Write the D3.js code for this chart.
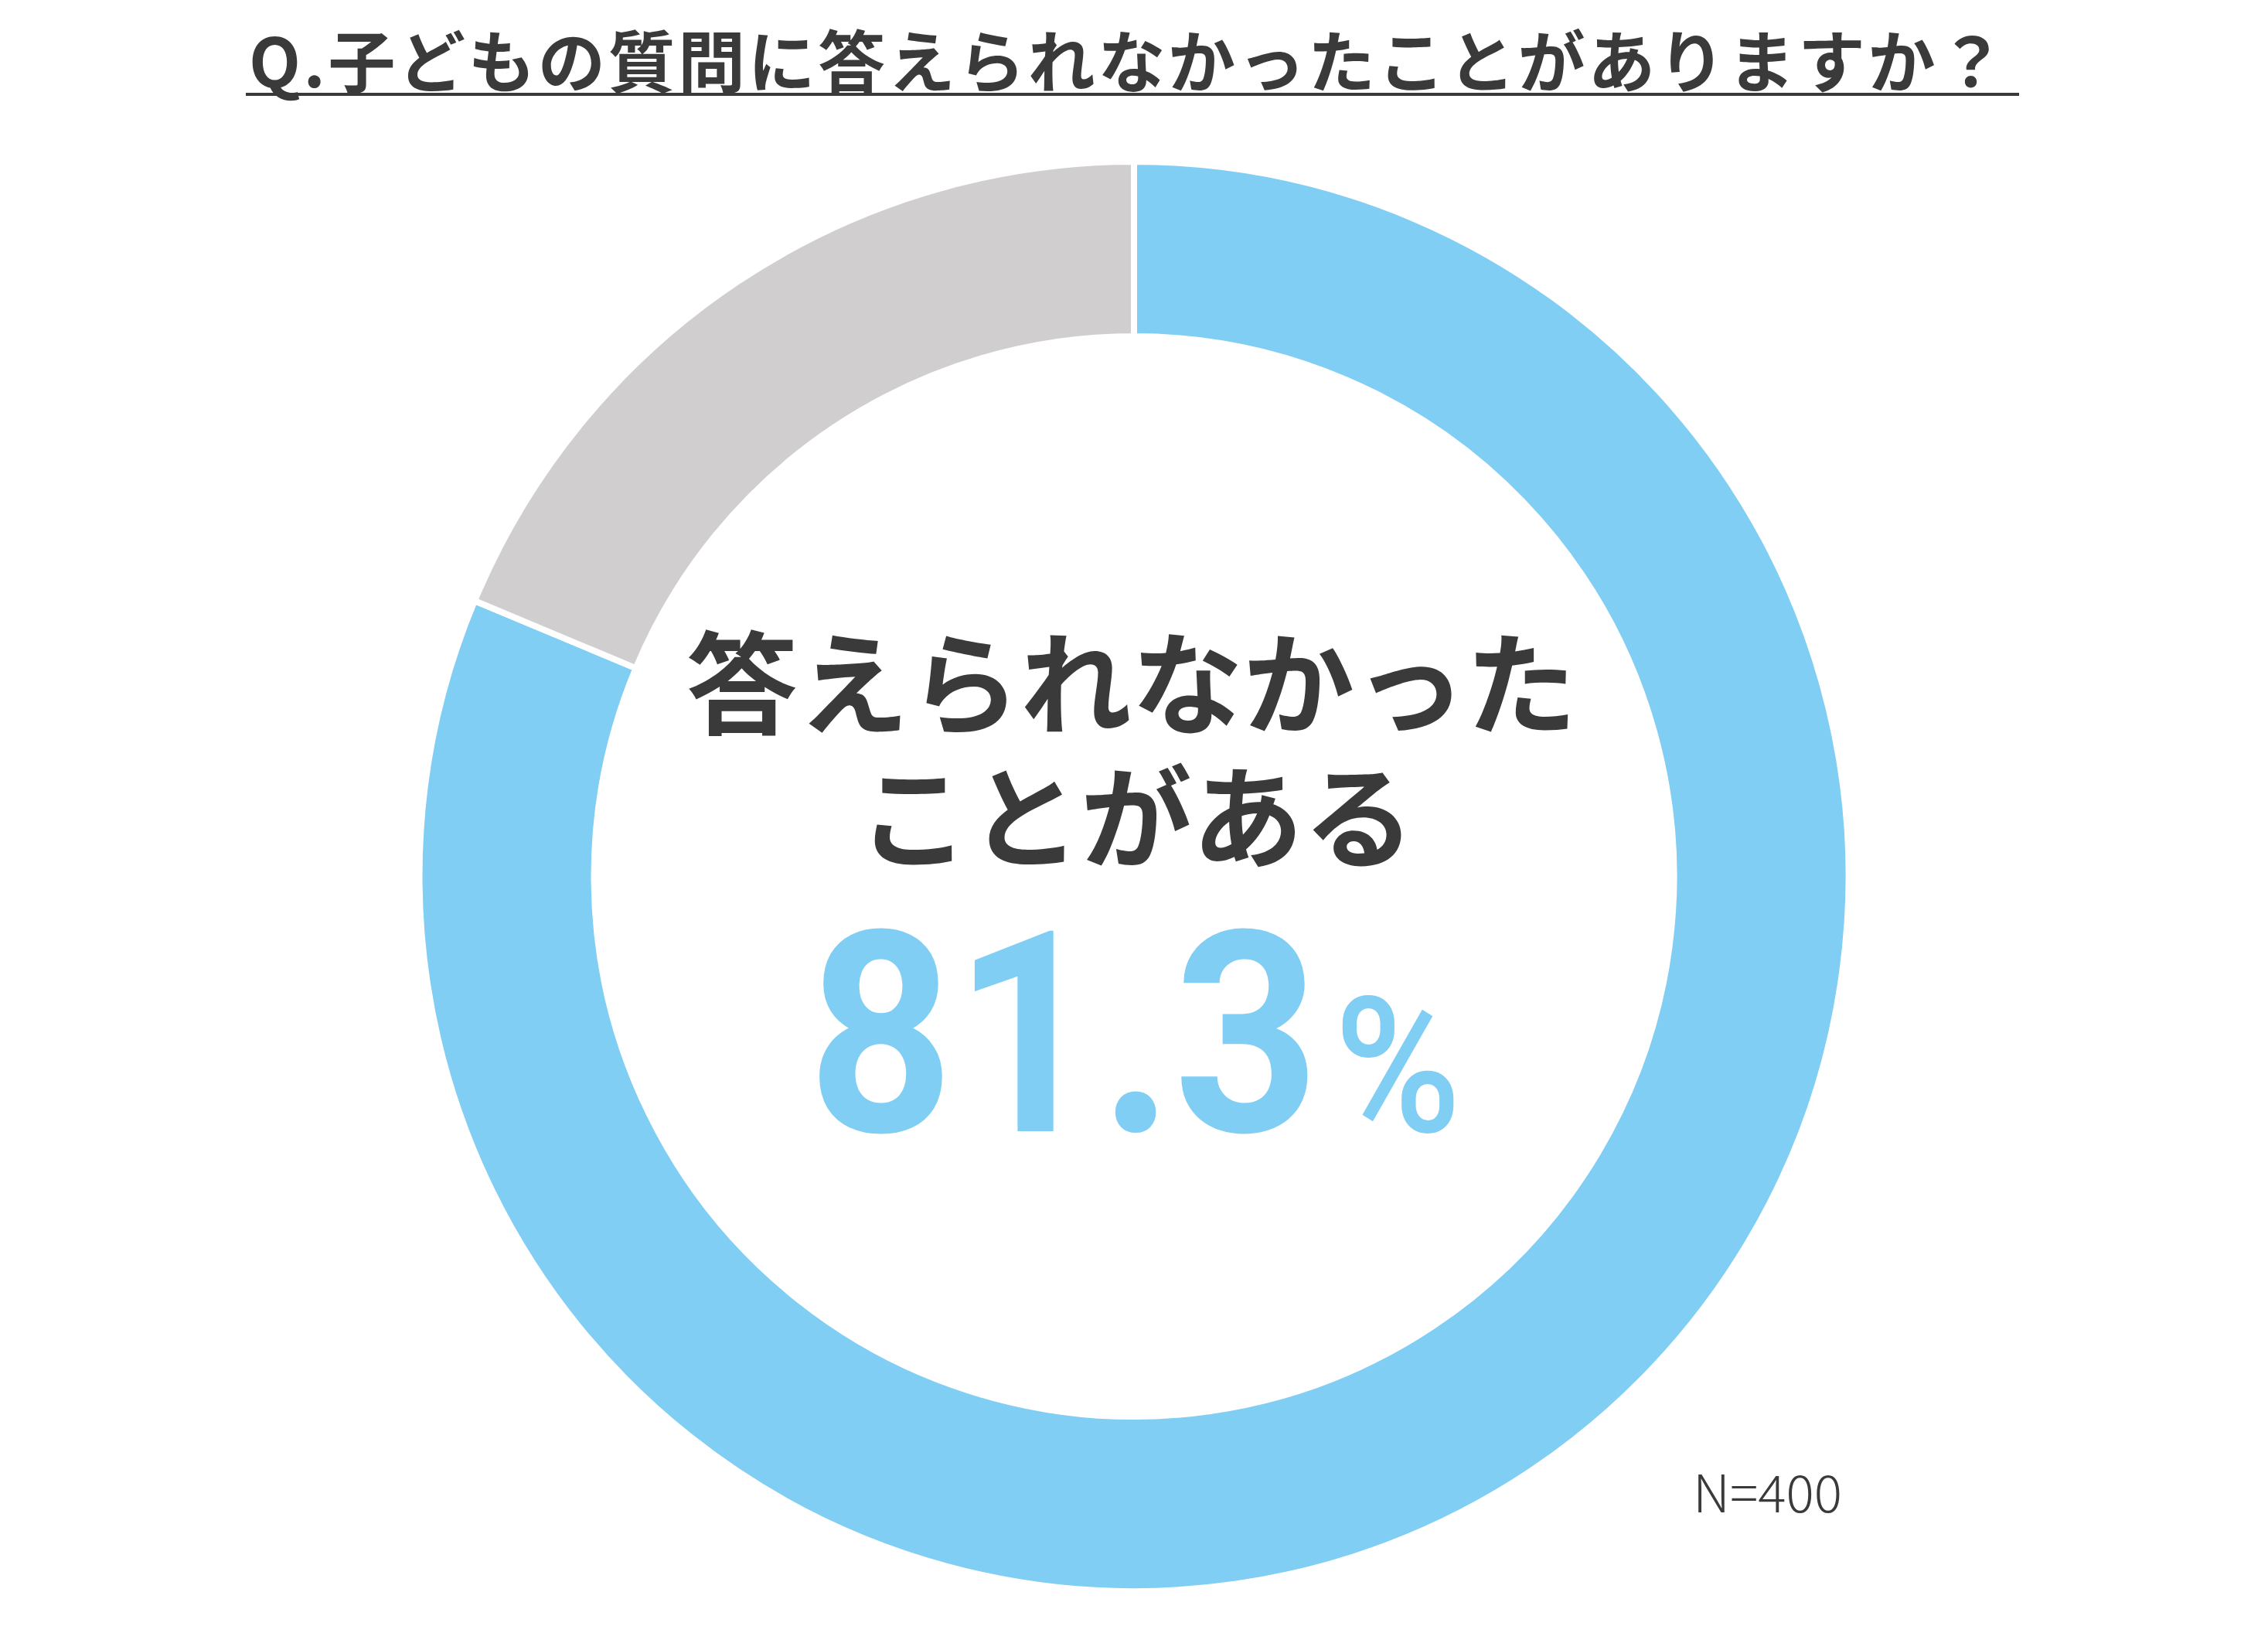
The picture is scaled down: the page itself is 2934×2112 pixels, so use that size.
<!DOCTYPE html>
<html><head><meta charset="utf-8">
<script src="https://cdn.jsdelivr.net/npm/d3@7"></script>
<style>html,body{margin:0;padding:0;background:#fff;}svg{display:block;}</style>
</head><body>
<script>
const categories = ["答えられなかったことがある", "答えられなかったことはない"];
const values = [81.3, 18.7];
const colors = ["#80cef3", "#d0cecf"];
const titleText = "Q.子どもの質問に答えられなかったことがありますか？";
const centerLines = ["答えられなかった", "ことがある"];
const bigValue = "81.3";
const sampleNote = "N=400";

const W = 2934, H = 2112;
const cx = 1467, cy = 1133.5, rOuter = 924.5, rInner = 698.5;
const dark = "#3a3a3a";
const jp = "'Noto Sans CJK JP','Noto Sans',sans-serif";

const svg = d3.select("body").append("svg").attr("width", W).attr("height", H);

// Title
svg.append("text")
  .attr("x", 322).attr("y", 75)
  .attr("dominant-baseline", "central")
  .attr("textLength", 2272).attr("lengthAdjust", "spacing")
  .style("font-family", jp).style("font-weight", 700).style("font-size", "87px")
  .attr("fill", dark).text(titleText);
svg.append("line").attr("x1", 318).attr("x2", 2612).attr("y1", 122).attr("y2", 122)
  .attr("stroke", dark).attr("stroke-width", 4);

// Donut
const pie = d3.pie().sort(null).value(d => d)(values);
const arc = d3.arc().innerRadius(rInner).outerRadius(rOuter);
svg.append("g").attr("transform", `translate(${cx},${cy})`)
  .selectAll("path").data(pie).join("path")
  .attr("d", arc).attr("fill", (d, i) => colors[i])
  .attr("stroke", "#fff").attr("stroke-width", 8).attr("stroke-linejoin", "miter");

// Center labels
const lineY = [876, 1049];
svg.selectAll("text.cl").data(centerLines).join("text").attr("class", "cl")
  .attr("x", (d, i) => i === 0 ? 1464 : 1470).attr("y", (d, i) => lineY[i])
  .attr("text-anchor", "middle").attr("dominant-baseline", "central")
  .style("font-family", jp).style("font-weight", 700).style("font-size", "144px")
  .attr("fill", dark).text(d => d);

// Big value
svg.append("text").attr("x", 1045).attr("y", 1463)
  .attr("textLength", 662).attr("lengthAdjust", "spacingAndGlyphs")
  .style("font-family", "Roboto,'Noto Sans',sans-serif").style("font-weight", 700).style("font-size", "364px")
  .attr("fill", colors[0]).text(bigValue);
svg.append("text").attr("x", 1726).attr("y", 1463)
  .attr("textLength", 164).attr("lengthAdjust", "spacingAndGlyphs")
  .style("font-family", "Roboto,'Noto Sans',sans-serif").style("font-weight", 500).style("font-size", "245px")
  .attr("fill", colors[0]).text("%");

// N note
svg.append("text").attr("x", 2190).attr("y", 1956)
  .attr("textLength", 193).attr("lengthAdjust", "spacingAndGlyphs")
  .style("font-family", "'Noto Sans CJK JP','Noto Sans',sans-serif").style("font-weight", 300).style("font-size", "67px")
  .attr("fill", dark).text(sampleNote);
</script>
</body></html>
